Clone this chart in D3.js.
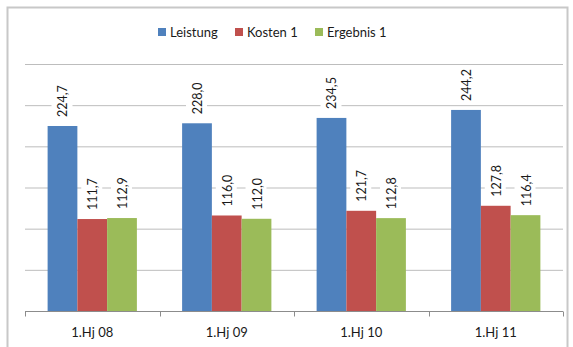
<!DOCTYPE html>
<html>
<head>
<meta charset="utf-8">
<script src="https://d3js.org/d3.v7.min.js"></script>
<style>
  body { margin: 0; background: #fff; }
  text { font-family: Lato, "Open Sans", sans-serif; }
</style>
</head>
<body>
<script>
// data
const categories = ["1.Hj 08", "1.Hj 09", "1.Hj 10", "1.Hj 11"];
const seriesNames = ["Leistung", "Kosten 1", "Ergebnis 1"];
const leistung = [224.7, 228.0, 234.5, 244.2];
const kosten = [111.7, 116.0, 121.7, 127.8];
const ergebnis = [112.9, 112.0, 112.8, 116.4];
const yTicks = [0, 50, 100, 150, 200, 250, 300];

const colors = ["#4f81bd", "#c0504d", "#9bbb59"];
const width = 573, height = 347;
const plot = {left: 25, right: 563, top: 64, bottom: 311};

const svg = d3.select("body").append("svg")
    .attr("width", width)
    .attr("height", height);

// chart frame
svg.append("rect")
    .attr("x", 7.5).attr("y", 7.5)
    .attr("width", 560).attr("height", 350)
    .attr("fill", "#fff")
    .attr("stroke", "#c8c8c8")
    .attr("stroke-width", 2);

const x0 = d3.scaleBand()
    .domain(categories)
    .range([plot.left, plot.right]);
const x1 = d3.scaleBand()
    .domain(seriesNames)
    .range([0, x0.bandwidth()])
    .paddingOuter(0.76);
const y = d3.scaleLinear()
    .domain([0, 300])
    .range([plot.bottom, plot.top]);

// gridlines
svg.append("g").selectAll("line")
    .data(yTicks.slice(1))
    .join("line")
    .attr("x1", plot.left).attr("x2", plot.right)
    .attr("y1", d => y(d) + 0.5).attr("y2", d => y(d) + 0.5)
    .attr("stroke", "#bdbdbd");

// category axis
const xAxis = svg.append("g")
    .attr("transform", `translate(0,${plot.bottom + 0.5})`);
xAxis.append("line")
    .attr("x1", plot.left).attr("x2", plot.right)
    .attr("stroke", "#8c8c8c");
xAxis.selectAll("line.tick")
    .data(d3.range(categories.length + 1))
    .join("line")
    .attr("class", "tick")
    .attr("x1", i => Math.round(plot.left + i * x0.step()) + 0.5)
    .attr("x2", i => Math.round(plot.left + i * x0.step()) + 0.5)
    .attr("y1", 0).attr("y2", 5)
    .attr("stroke", "#8c8c8c");
xAxis.selectAll("text")
    .data(categories)
    .join("text")
    .attr("x", d => x0(d) + x0.bandwidth() / 2)
    .attr("y", 25)
    .attr("text-anchor", "middle")
    .attr("font-size", 13)
    .attr("fill", "#1a1a1a")
    .text(d => d);

// bars
const values = [leistung, kosten, ergebnis];
const rows = [];
categories.forEach((c, i) => {
    seriesNames.forEach((s, j) => rows.push({cat: c, series: s, value: values[j][i], color: colors[j]}));
});

svg.append("g").selectAll("rect")
    .data(rows)
    .join("rect")
    .attr("x", d => x0(d.cat) + x1(d.series))
    .attr("y", d => y(d.value))
    .attr("width", x1.bandwidth())
    .attr("height", d => y(0) - y(d.value))
    .attr("fill", d => d.color);

// value labels (rotated, with white background)
const fmt = v => v.toFixed(1).replace(".", ",");
const labels = svg.append("g").selectAll("g")
    .data(rows)
    .join("g")
    .attr("transform", d => `translate(${x0(d.cat) + x1(d.series) + x1.bandwidth() / 2 + 5},${y(d.value) - 9}) rotate(-90)`);
labels.append("rect")
    .attr("x", -3).attr("y", -16)
    .attr("width", 37).attr("height", 21)
    .attr("fill", "#fff");
labels.append("text")
    .attr("x", 0).attr("y", 0)
    .attr("font-size", 12.5)
    .attr("fill", "#1a1a1a")
    .text(d => fmt(d.value));

// legend
const legend = svg.append("g").attr("transform", "translate(158,32)");
const legendX = [0, 77, 157];
seriesNames.forEach((s, j) => {
    const g = legend.append("g").attr("transform", `translate(${legendX[j]},0)`);
    g.append("rect")
        .attr("x", 0).attr("y", -4)
        .attr("width", 8).attr("height", 8)
        .attr("fill", colors[j]);
    g.append("text")
        .attr("x", 12).attr("y", 5)
        .attr("font-size", 13)
        .attr("fill", "#1a1a1a")
        .text(s);
});
</script>
</body>
</html>
